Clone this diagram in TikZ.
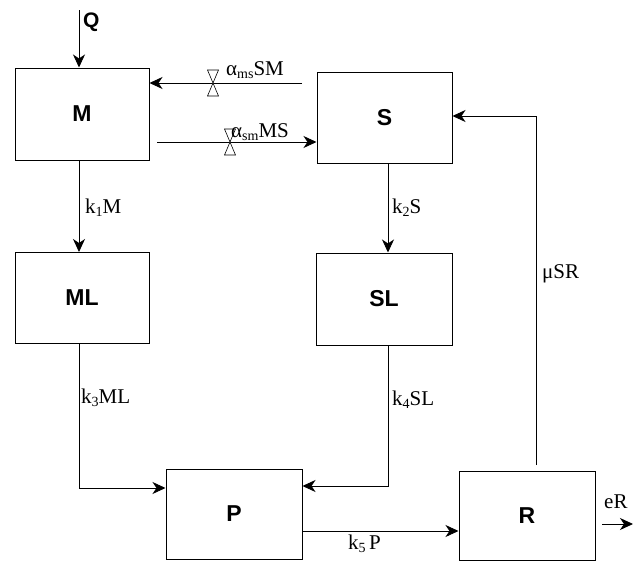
\documentclass[tikz,border=0pt]{standalone}
\usepackage{fontspec}
\setmainfont{Liberation Serif}
\newfontfamily\boxfont{Liberation Sans}
\usetikzlibrary{arrows.meta}
\newcommand{\sbs}[1]{\raisebox{-0.35ex}{\fontsize{14}{14}\selectfont #1}}
\tikzset{
  compbox/.style={draw, line width=1pt, inner sep=0pt, font=\boxfont\bfseries\fontsize{23}{23}\selectfont},
  flow/.style={line width=0.9pt, -{Stealth[length=13pt,width=12pt,inset=4pt]}},
  rate/.style={font=\fontsize{21}{21}\selectfont, inner sep=0pt, anchor=west},
  valve/.style={line width=0.6pt, fill=white}
}
\begin{document}
\begin{tikzpicture}[x=1pt,y=-1pt]
\useasboundingbox (0,0) rectangle (633,562);
% boxes
\node[compbox, minimum width=134pt, minimum height=92pt] (M) at (82,114) {M};
\node[compbox, minimum width=135pt, minimum height=91pt] (S) at (384.5,117.5) {S};
\node[compbox, minimum width=134pt, minimum height=91pt] (ML) at (82,298) {ML};
\node[compbox, minimum width=136pt, minimum height=92pt] (SL) at (384,299) {SL};
\node[compbox, minimum width=136pt, minimum height=90pt] (P) at (234,514) {P};
\node[compbox, minimum width=136pt, minimum height=89pt] (R) at (527,515.5) {R};
% helper coordinates
\coordinate (q) at (79,10);
\coordinate (sm0) at (302,83);
\coordinate (ms0) at (157,142);
\coordinate (k2) at (388,0);
\coordinate (k3) at (79,488);
\coordinate (k4) at (388,486);
\coordinate (pr) at (0,531);
\coordinate (rs0) at (536,465);
\coordinate (rs) at (536,116);
\coordinate (er0) at (602,524);
\coordinate (er1) at (633,524);
\coordinate (v1) at (213,83);
\coordinate (v2) at (230,142);
% connectors
\draw[flow] (q) -- (q |- M.north);
\draw[flow] (sm0) -- (sm0 -| M.east);
\draw[flow] (ms0) -- (ms0 -| S.west);
\draw[flow] (M.south -| q) -- (ML.north -| q);
\draw[flow] (S.south -| k2) -- (SL.north -| k2);
\draw[flow] (ML.south -| k3) -- (k3) -- (k3 -| P.west);
\draw[flow] (SL.south -| k4) -- (k4) -- (k4 -| P.east);
\draw[flow] (pr -| P.east) -- (pr -| R.west);
\draw[flow] (rs0) -- (rs) -- (rs -| S.east);
\draw[flow] (er0) -- (er1);
% valves
\draw[valve] (v1) -- ++(-5.5,-13) -- ++(11,0) -- cycle;
\draw[valve] (v1) -- ++(-5.5,13) -- ++(11,0) -- cycle;
\draw[valve] (v2) -- ++(-5.5,-13) -- ++(11,0) -- cycle;
\draw[valve] (v2) -- ++(-5.5,13) -- ++(11,0) -- cycle;
% labels
\node[font=\boxfont\bfseries\fontsize{21}{21}\selectfont, inner sep=0pt, anchor=west] (lq) at (83,22) {Q};
\node[rate] (l1) at (226,70) {α\sbs{ms}SM};
\node[rate] (l2) at (231,132) {α\sbs{sm}MS};
\node[rate] (l3) at (85,208) {k\sbs{1}M};
\node[rate] (l4) at (392,208) {k\sbs{2}S};
\node[rate] (l5) at (81,398) {k\sbs{3}ML};
\node[rate] (l6) at (392,400) {k\sbs{4}SL};
\node[rate] (l7) at (348,544) {k\sbs{5}\,P};
\node[rate] (l8) at (542,274) {μSR};
\node[rate] (l9) at (604,502) {eR};
\end{tikzpicture}
\end{document}
